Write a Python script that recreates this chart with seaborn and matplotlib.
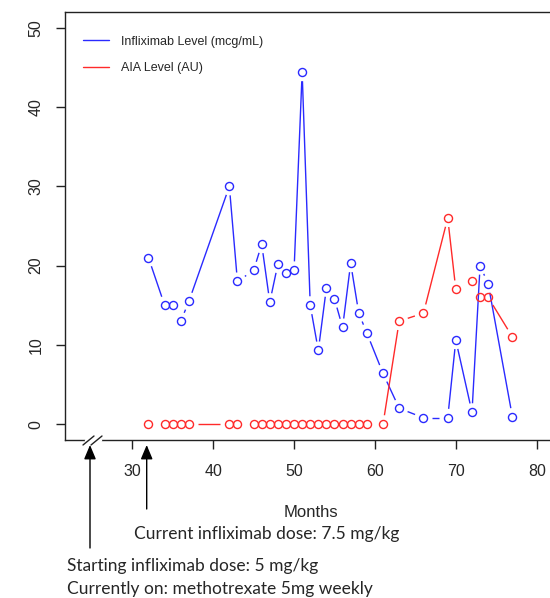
import numpy as np
import matplotlib
matplotlib.use("Agg")
import matplotlib.pyplot as plt
from matplotlib.lines import Line2D
import seaborn as sns

# ---- data ----
months = [32, 34, 35, 36, 37, 42, 43, 45, 46, 47, 48, 49, 50, 51, 52, 53, 54,
          55, 56, 57, 58, 59, 61, 63, 66, 69, 70, 72, 73, 74, 77]
infliximab = [21.0, 15.0, 15.0, 13.0, 15.5, 30.0, 18.0, 19.4, 22.7, 15.4, 20.2,
              19.1, 19.4, 44.4, 15.0, 9.3, 17.2, 15.8, 12.2, 20.3, 14.0, 11.5,
              6.4, 2.0, 0.8, 0.8, 10.6, 1.5, 20.0, 17.7, 0.9]
aia = [0, 0, 0, 0, 0, 0, 0, 0, 0, 0, 0, 0, 0, 0, 0, 0, 0, 0, 0, 0, 0, 0, 0,
       13.0, 14.0, 26.0, 17.0, 18.0, 16.0, 16.0, 11.0]
series_labels = ["Infliximab Level (mcg/mL)", "AIA Level (AU)"]
series_colors = ["#2a2aff", "#ff2a2a"]
xticks = [30, 40, 50, 60, 70, 80]
yticks = [0, 10, 20, 30, 40, 50]

sns.set_style("white")
plt.rcParams["font.family"] = ["Liberation Sans", "DejaVu Sans"]

W, H = 550, 598
fig = plt.figure(figsize=(W / 100, H / 100), dpi=100)
ax_l, ax_r, ax_t, ax_b = 65, 557, 12, 440
ax = fig.add_axes([ax_l / W, 1 - ax_b / H, (ax_r - ax_l) / W, (ax_b - ax_t) / H])
ax.set_xlim(21.68, 82.51)
ax.set_ylim(-2, 52)


def gapped_line(ax, x, y, color, gap_px=9.0):
    pts = ax.transData.transform(np.column_stack([x, y]))
    inv = ax.transData.inverted()
    for p0, p1 in zip(pts[:-1], pts[1:]):
        d = p1 - p0
        L = np.hypot(*d)
        if L <= 2 * gap_px:
            continue
        u = d / L
        a = inv.transform(p0 + u * gap_px)
        b = inv.transform(p1 - u * gap_px)
        ax.plot([a[0], b[0]], [a[1], b[1]], color=color, lw=1.0,
                solid_capstyle="butt")


for vals, col in [(infliximab, series_colors[0]), (aia, series_colors[1])]:
    gapped_line(ax, months, vals, col)
    sns.lineplot(x=months, y=vals, ax=ax, estimator=None, sort=False,
                 linestyle="none", marker="o", markersize=5.8,
                 markerfacecolor="none", markeredgecolor=col,
                 markeredgewidth=1.0, color=col, legend=False, zorder=3)

# axes styling (R base look)
for side in ["left", "bottom", "top", "right"]:
    ax.spines[side].set_color("#222222")
    ax.spines[side].set_linewidth(1.0)
ax.set_xticks(xticks)
ax.set_yticks(yticks)
ax.tick_params(axis="both", direction="out", length=6.5, width=1.0,
               color="#222222", labelsize=11.5, bottom=True, left=True)
ax.tick_params(axis="x", pad=11)
ax.tick_params(axis="y", pad=9)
for lab in ax.get_yticklabels():
    lab.set_rotation(90)
    lab.set_va("center")

ax.set_xlabel("Months", fontsize=12)
ax.xaxis.set_label_coords(0.5, (ax_b - 512.5) / (ax_b - ax_t))
ax.xaxis.label.set_va("center")
ax.set_ylabel("")

# legend
handles = [Line2D([], [], color=c, lw=1.0) for c in series_colors]
fig.legend(handles, series_labels, loc="upper left",
           bbox_to_anchor=(82.7 / W, 1 - 35.5 / H), bbox_transform=fig.transFigure,
           frameon=False, handlelength=2.1, handletextpad=1.0, labelspacing=1.15,
           borderpad=0, borderaxespad=0, prop={"family": "Liberation Sans", "size": 9})

# axis break marks
fx = lambda px: px / W
fy = lambda py: 1 - py / H
fig.add_artist(Line2D([fx(86), fx(100)], [fy(440), fy(440)], color="white", lw=2.5,
                      transform=fig.transFigure))
for x0 in [83, 91]:
    fig.add_artist(Line2D([fx(x0), fx(x0 + 11)], [fy(445), fy(436)], color="#222222",
                          lw=1.0, transform=fig.transFigure))

# arrows
arrow_kw = dict(arrowstyle="-|>,head_length=1.0,head_width=0.42", color="black",
                lw=1.0, mutation_scale=8.6, shrinkA=0, shrinkB=0)
fig.add_artist(matplotlib.patches.FancyArrowPatch(
    (fx(90), fy(548)), (fx(90), fy(445)), transform=fig.transFigure, **arrow_kw))
fig.add_artist(matplotlib.patches.FancyArrowPatch(
    (fx(146.7), fy(509)), (fx(146.7), fy(445)), transform=fig.transFigure, **arrow_kw))

# annotations
note_font = ["Lato", "DejaVu Sans"]
fig.text(fx(134), fy(534), "Current infliximab dose: 7.5 mg/kg", family=note_font,
         fontsize=12.5, va="center", ha="left")
fig.text(fx(67), fy(566), "Starting infliximab dose: 5 mg/kg", family=note_font,
         fontsize=12.5, va="center", ha="left")
fig.text(fx(67), fy(589), "Currently on: methotrexate 5mg weekly", family=note_font,
         fontsize=12.5, va="center", ha="left")

fig.savefig("out.png", dpi=100)
